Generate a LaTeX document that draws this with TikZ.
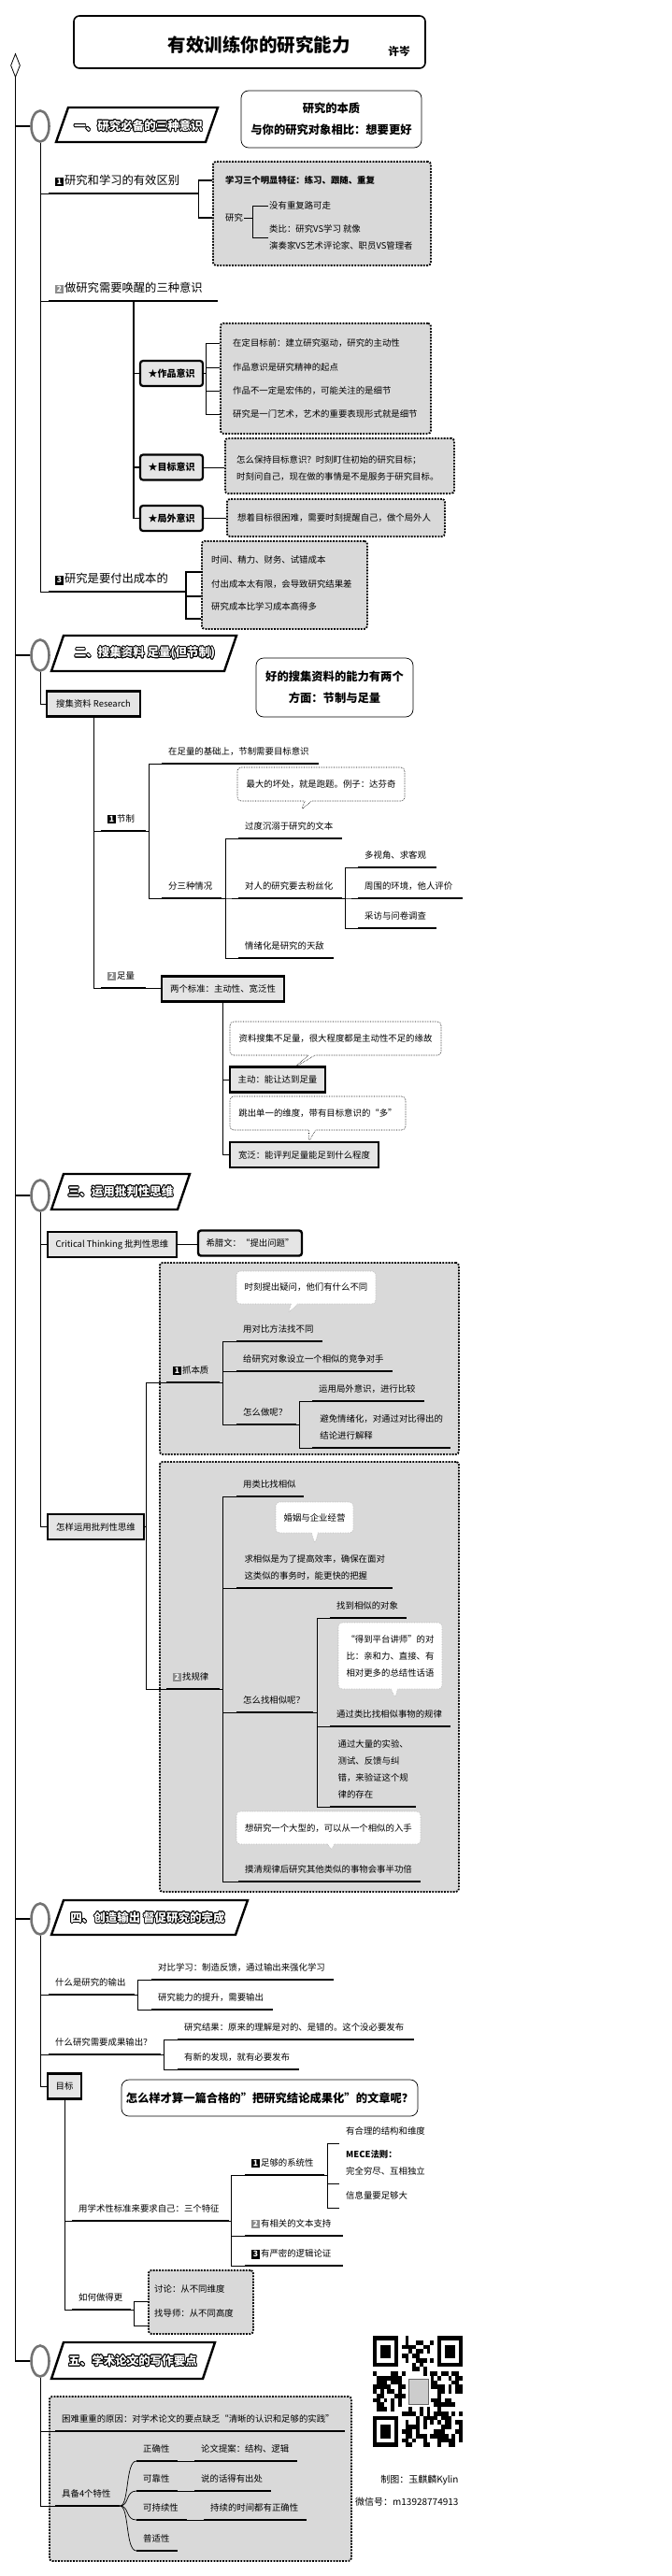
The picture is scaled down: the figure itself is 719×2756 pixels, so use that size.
\documentclass[tikz,border=0pt]{standalone}
\usepackage{fontspec}
\setmainfont{Noto Sans CJK SC}
\usepackage{contour}
\contourlength{0.8pt}
\usetikzlibrary{shapes.geometric,shapes.callouts}
\newcommand{\numtag}[2][black]{{\setlength{\fboxsep}{1.6pt}\colorbox{#1}{\textcolor{white}{\bfseries\fontsize{8.6}{9}\selectfont #2}}}\hspace{1.5pt}}

\begin{document}
\begin{tikzpicture}[x=1pt,y=-1pt,font=\fontsize{9.4}{18}\selectfont,
  spine/.style={line width=1.3pt},
  conn/.style={line width=0.7pt},
  fatconn/.style={line width=1.8pt},
  leaf/.style={anchor=south west,inner xsep=7pt,inner ysep=9pt,text depth=0pt,align=left},
  topic/.style={leaf,append after command={(\tikzlastnode.south west) edge[line width=2.4pt] (\tikzlastnode.south east)}},
  big/.style={font=\fontsize{12.3}{15}\selectfont},
  item/.style={anchor=west,inner sep=1pt,align=left},
  stip/.style={draw,line width=1.8pt,dash pattern=on 1.8pt off 1.4pt,fill=black!15,rounded corners=3pt,inner sep=0pt,anchor=north west},
  secring/.style={ellipse,draw=black!55,line width=2.6pt,fill=white,minimum width=19pt,minimum height=33pt,inner sep=0pt},
  secbar/.style={line width=2.4pt,line join=miter,fill=white},
  sectxt/.style={font=\bfseries\fontsize{12.5}{14}\selectfont,text=white},
  note/.style={draw,line width=0.7pt,rounded corners=8pt,align=center,font=\bfseries\fontsize{12.3}{23}\selectfont},
  kbox/.style={draw,line width=2.2pt,rounded corners=3pt,fill=black!10,minimum width=67pt,minimum height=27pt,inner sep=2pt,font=\bfseries\fontsize{10}{12}\selectfont},
  sqbox/.style={draw,line width=2.4pt,fill=black!10,minimum height=27pt,inner sep=2pt},
  rsqbox/.style={sqbox,rounded corners=3pt},
  tipbox/.style={rectangle callout,draw,densely dotted,line width=0.6pt,rounded corners=4pt,fill=white,callout pointer width=7pt,align=left},
  wtipbox/.style={tipbox,draw=black!30}]

\fill[white] (0,0) rectangle (719,2756);
\useasboundingbox (0,0) rectangle (719,2756);

\node[draw,line width=1.6pt,rounded corners=6pt,minimum width=376pt,minimum height=56pt] (tb) at (267,45) {};
\node[font=\bfseries\fontsize{19.5}{22}\selectfont] (tt) at (277,48) {有效训练你的研究能力};
\node[font=\bfseries\fontsize{11.7}{14}\selectfont] (au) at (427,55) {许岑};

\node[diamond,draw,line width=0.8pt,aspect=0.4,minimum width=10pt,minimum height=25pt,inner sep=0pt] (top) at (16.5,70) {};
\node[secring] (s1) at (43,135) {};
\node[secring] (s2) at (43,701) {};
\node[secring] (s3) at (43,1279) {};
\node[secring] (s4) at (43,2053) {};
\node[secring] (s5) at (43,2526) {};
\draw[spine] (top.south) -- (top.south |- s5.west) -- (s5.west);
\foreach \s in {s1,s2,s3,s4}
  \draw[spine] (top.south |- \s.west) -- (\s.west);

\draw[secbar] (73,115) -- (233,115) -- (220,152) -- (60,152) -- cycle;
\node[sectxt] (h1) at (148,135) {\contour{black}{一、研究必备的三种意识}};
\node[note,minimum width=193pt,minimum height=61pt] (n1) at (354.5,127.5) {研究的本质\\与你的研究对象相比：想要更好};

\node[topic,big,text width=146pt] (b11) at (52,207) {\numtag{1}研究和学习的有效区别};
\node[topic,big,text width=167pt] (b12) at (52,322) {\numtag[black!45]{2}做研究需要唤醒的三种意识};
\node[topic,big,text width=131pt] (b13) at (52,633) {\numtag{3}研究是要付出成本的};
\draw[conn] (s1.south) |- (b11.south west);
\draw[conn] (s1.south) |- (b12.south west);
\draw[conn] (s1.south) |- (b13.south west);

\node[stip,minimum width=233pt,minimum height=111pt] (bx1) at (227,172) {};
\node[item] (i11) at (240,193) {\bfseries 学习三个明显特征：练习、跟随、重复};
\node[item] (i12) at (240,233) {研究};
\node[item] (i121) at (287,220) {没有重复路可走};
\node[item] (i122) at (287,254) {类比：研究VS学习 就像\\演奏家VS艺术评论家、职员VS管理者};
\draw[fatconn] (b11.south east) |- (i11.west -| bx1.west);
\draw[fatconn] (b11.south east) |- (i12.west -| bx1.west);
\coordinate (j12) at (270,233);
\draw[conn] (i12.east) -- (j12) |- (i121.west);
\draw[conn] (j12) |- (i122.west);

\node[stip,minimum width=225pt,minimum height=118pt] (bx2) at (235,345) {};
\coordinate (j2) at (143,322);
\node[kbox] (k1) at (183.5,399.5) {★作品意识};
\node[kbox] (k2) at (183.5,500) {★目标意识};
\node[kbox] (k3) at (183.5,554.5) {★局外意识};
\draw[fatconn] (j2) |- (k1.west);
\draw[fatconn] (j2) |- (k2.west);
\draw[fatconn] (j2) |- (k3.west);
\node[item] (i21) at (248,367) {在定目标前：建立研究驱动，研究的主动性};
\node[item] (i22) at (248,393) {作品意识是研究精神的起点};
\node[item] (i23) at (248,418) {作品不一定是宏伟的，可能关注的是细节};
\node[item] (i24) at (248,443) {研究是一门艺术，艺术的重要表现形式就是细节};
\coordinate (j21) at (220,399.5);
\draw[conn] (k1.east) -- (j21) |- (i21.west -| bx2.west);
\draw[conn] (j21) |- (i22.west -| bx2.west);
\draw[conn] (j21) |- (i23.west -| bx2.west);
\draw[conn] (j21) |- (i24.west -| bx2.west);

\node[stip,minimum width=245pt,minimum height=59pt] (bx3) at (240,468) {};
\node[item] (i3) at (252,501) {怎么保持目标意识？时刻盯住初始的研究目标；\\时刻问自己，现在做的事情是不是服务于研究目标。};
\draw[conn] (k2.east) -- (k2.east -| bx3.west);
\node[stip,minimum width=233pt,minimum height=40pt] (bx4) at (242,533) {};
\node[item] (i4) at (253,554) {想着目标很困难，需要时刻提醒自己，做个局外人};
\draw[conn] (k3.east) -- (k3.east -| bx4.west);

\node[stip,minimum width=177pt,minimum height=94pt] (bx5) at (215,578) {};
\node[leaf,inner xsep=11pt] (i51) at (215,612) {时间、精力、财务、试错成本};
\node[leaf,inner xsep=11pt] (i52) at (215,638) {付出成本太有限，会导致研究结果差};
\node[leaf,inner xsep=11pt] (i53) at (215,662) {研究成本比学习成本高得多};
\coordinate (j5) at (199,633);
\draw[fatconn] (b13.south east) -- (j5) |- (i51.south west);
\draw[fatconn] (j5) |- (i52.south west);
\draw[fatconn] (j5) |- (i53.south west);

\draw[secbar] (68,680) -- (253,680) -- (240,718) -- (55,718) -- cycle;
\node[sectxt] (h2) at (155,699) {\contour{black}{二、搜集资料 足量(但节制)}};
\node[note,minimum width=168pt,minimum height=63pt] (n2) at (358,735.5) {好的搜集资料的能力有两个\\方面：节制与足量};
\node[sqbox,minimum width=100pt] (rs) at (100,753) {搜集资料 Research};
\draw[conn] (s2.south) |- (rs.west);
\node[topic,text width=34pt] (t21) at (108,889) {\numtag{1}节制};
\node[topic,text width=34pt] (t22) at (108,1057) {\numtag[black!45]{2}足量};
\draw[conn] (rs.south) |- (t21.south west);
\draw[conn] (rs.south) |- (t22.south west);
\node[topic,text width=154pt] (t211) at (173,817) {在足量的基础上，节制需要目标意识};
\node[topic,text width=50pt] (t212) at (173,961) {分三种情况};
\draw[conn] (t21.south east) -- ++(3,0) |- (t211.south west);
\draw[conn] (t21.south east) -- ++(3,0) |- (t212.south west);
\node[topic,text width=97pt] (t2121) at (255,897) {过度沉溺于研究的文本};
\node[topic,text width=97pt] (t2122) at (255,961) {对人的研究要去粉丝化};
\node[topic,text width=88pt] (t2123) at (255,1025) {情绪化是研究的天敌};
\draw[conn] (t212.south east) -- ++(4,0) |- (t2121.south west);
\draw[conn] (t212.south east) -- ++(4,0) |- (t2122.south west);
\draw[conn] (t212.south east) -- ++(4,0) |- (t2123.south west);
\node[tipbox,minimum width=179pt,minimum height=36pt,callout absolute pointer={(322,867)}] (c1) at (343.5,839) {最大的坏处，就是跑题。例子：达芬奇};
\node[topic,text width=70pt] (t21221) at (383,928) {多视角、求客观};
\node[topic,text width=98pt] (t21222) at (383,961) {周围的环境，他人评价};
\node[topic,text width=70pt] (t21223) at (383,993) {采访与问卷调查};
\draw[conn] (t2122.south east) -- ++(3,0) |- (t21221.south west);
\draw[conn] (t2122.south east) -- ++(3,0) |- (t21222.south west);
\draw[conn] (t2122.south east) -- ++(3,0) |- (t21223.south west);

\node[sqbox,minimum width=131pt] (sb1) at (238.5,1058) {两个标准：主动性、宽泛性};
\draw[conn] (t22.south east) -- (t22.south east -| sb1.west);
\node[tipbox,minimum width=226pt,minimum height=36pt,callout absolute pointer={(315,1142)}] (c2) at (359,1111) {资料搜集不足量，很大程度都是主动性不足的缘故};
\node[sqbox,minimum width=102pt] (sb2) at (297,1155) {主动：能让达到足量};
\node[tipbox,minimum width=188pt,minimum height=36pt,callout absolute pointer={(330,1222)}] (c3) at (340,1191) {跳出单一的维度，带有目标意识的“多”};
\node[sqbox,minimum width=159pt] (sb3) at (325.5,1235.5) {宽泛：能评判足量能足到什么程度};
\draw[conn] (sb1.south) |- (sb2.west);
\draw[conn] (sb1.south) |- (sb3.west);

\draw[secbar] (68,1256) -- (203,1256) -- (190,1294) -- (55,1294) -- cycle;
\node[sectxt] (h3) at (129,1275) {\contour{black}{三、运用批判性思维}};
\node[sqbox,minimum width=138pt] (ct) at (120,1331.5) {Critical Thinking 批判性思维};
\node[rsqbox,minimum width=111pt] (gk) at (267.5,1330) {希腊文：“提出问题”};
\draw[conn] (s3.south) |- (ct.west);
\draw[conn] (ct.east) -- (ct.east -| gk.west);
\node[sqbox,minimum width=103pt] (hw) at (102.5,1633.5) {怎样运用批判性思维};
\draw[conn] (s3.south) |- (hw.west);

\node[stip,minimum width=320pt,minimum height=205pt] (bxa) at (170,1350) {};
\node[stip,minimum width=320pt,minimum height=460pt] (bxb) at (170,1563) {};
\coordinate (j3) at (156,1633.5);
\node[topic,text width=43pt] (t31) at (178,1479) {\numtag{1}抓本质};
\node[topic,text width=43pt] (t32) at (178,1807) {\numtag[black!45]{2}找规律};
\draw[conn] (hw.east) -- (j3) |- (t31.south west);
\draw[conn] (j3) |- (t32.south west);

\node[wtipbox,minimum width=149pt,minimum height=35pt,callout absolute pointer={(308,1405)}] (ca) at (327.5,1377.5) {时刻提出疑问，他们有什么不同};
\node[topic,text width=78pt] (t311) at (253,1435) {用对比方法找不同};
\node[topic,text width=153pt] (t312) at (253,1467) {给研究对象设立一个相似的竞争对手};
\node[topic,text width=50pt] (t313) at (253,1524) {怎么做呢？};
\draw[conn] (t31.south east) -- ++(3,0) |- (t311.south west);
\draw[conn] (t31.south east) -- ++(3,0) |- (t312.south west);
\draw[conn] (t31.south east) -- ++(3,0) |- (t313.south west);
\node[topic,text width=106pt] (t3131) at (334,1499) {运用局外意识，进行比较};
\node[topic,minimum width=148pt] (t3132) at (334,1549) {避免情绪化，对通过对比得出的\\结论进行解释};
\draw[conn] (t313.south east) -- ++(3,0) |- (t3131.south west);
\draw[conn] (t313.south east) -- ++(3,0) |- (t3132.south west);

\node[topic,text width=58pt] (t321) at (253,1601) {用类比找相似};
\node[wtipbox,minimum width=83pt,minimum height=33pt,callout absolute pointer={(337,1652)}] (cb) at (336.5,1623.5) {婚姻与企业经营};
\node[topic,minimum width=167pt] (t322) at (253,1699) {求相似是为了提高效率，确保在面对\\这类似的事务时，能更快的把握};
\node[topic,text width=68pt] (t323) at (253,1832) {怎么找相似呢？};
\node[wtipbox,minimum width=197pt,minimum height=35pt,callout absolute pointer={(355,1980)}] (cd) at (351.5,1955.5) {想研究一个大型的，可以从一个相似的入手};
\node[topic,text width=181pt] (t324) at (255,2013) {摸清规律后研究其他类似的事物会事半功倍};
\draw[conn] (t32.south east) -- ++(3,0) |- (t321.south west);
\draw[conn] (t32.south east) -- ++(3,0) |- (t322.south west);
\draw[conn] (t32.south east) -- ++(3,0) |- (t323.south west);
\draw[conn] (t32.south east) -- ++(3,0) |- (t324.south west);
\node[topic,text width=68pt] (t3231) at (353,1731) {找到相似的对象};
\node[wtipbox,minimum width=111pt,minimum height=71pt,callout absolute pointer={(423,1817)}] (cc) at (417.5,1771.5) {“得到平台讲师”的对\\比：亲和力、直接、有\\相对更多的总结性话语};
\node[topic,text width=115pt] (t3232) at (353,1847) {通过类比找相似事物的规律};
\node[topic,minimum width=92pt] (t3233) at (353,1933) {通过大量的实验、\\测试、反馈与纠\\错，来验证这个规\\律的存在};
\draw[conn] (t323.south east) -- ++(4,0) |- (t3231.south west);
\draw[conn] (t323.south east) -- ++(4,0) |- (t3232.south west);
\draw[conn] (t323.south east) -- ++(4,0) |- (t3233.south west);

\draw[secbar] (68,2033) -- (265,2033) -- (252,2070) -- (55,2070) -- cycle;
\node[sectxt] (h4) at (158,2052) {\contour{black}{四、创造输出 督促研究的完成}};
\node[topic,text width=78pt] (t41) at (52,2134) {什么是研究的输出};
\node[topic,text width=181pt] (t411) at (162,2118) {对比学习：制造反馈，通过输出来强化学习};
\node[topic,text width=116pt] (t412) at (162,2150) {研究能力的提升，需要输出};
\node[topic,text width=106pt] (t42) at (52,2198) {什么研究需要成果输出？};
\node[topic,text width=239pt] (t421) at (190,2182) {研究结果：原来的理解是对的、是错的。这个没必要发布};
\node[topic,text width=116pt] (t422) at (190,2214) {有新的发现，就有必要发布};
\node[sqbox,minimum width=36pt] (gl) at (69,2232) {目标};
\draw[conn] (s4.south) |- (t41.south west);
\draw[conn] (s4.south) |- (t42.south west);
\draw[conn] (s4.south) |- (gl.west);
\draw[conn] (t41.south east) -- ++(3,0) |- (t411.south west);
\draw[conn] (t41.south east) -- ++(3,0) |- (t412.south west);
\draw[conn] (t42.south east) -- ++(3,0) |- (t421.south west);
\draw[conn] (t42.south east) -- ++(3,0) |- (t422.south west);
\node[note,minimum width=317pt,minimum height=39pt] (n4) at (288.5,2244.5) {怎么样才算一篇合格的"把研究结论成果化"的文章呢？};
\node[topic,text width=154pt] (t43) at (77,2376) {用学术性标准来要求自己：三个特征};
\node[topic,text width=49pt] (t44) at (77,2471) {如何做得更};
\draw[conn] (gl.south) |- (t43.south west);
\draw[conn] (gl.south) |- (t44.south west);
\node[topic,text width=71pt] (t431) at (262,2327) {\numtag{1}足够的系统性};
\node[topic,text width=91pt] (t432) at (262,2392) {\numtag[black!45]{2}有相关的文本支持};
\node[topic,text width=91pt] (t433) at (262,2424) {\numtag{3}有严密的逻辑论证};
\draw[conn] (t43.south east) -- ++(2,0) |- (t431.south west);
\draw[conn] (t43.south east) -- ++(2,0) |- (t432.south west);
\draw[conn] (t43.south east) -- ++(2,0) |- (t433.south west);
\node[leaf] (l1) at (363,2293) {有合理的结构和维度};
\node[leaf] (l2) at (363,2336) {\textbf{MECE法则：}\\完全穷尽、互相独立};
\node[leaf] (l3) at (363,2362) {信息量要足够大};
\draw[conn] (t431.south east) -- ++(3,0) |- (l1.south west);
\draw[conn] (t431.south east) -- ++(3,0) |- (l2.south west);
\draw[conn] (t431.south east) -- ++(3,0) |- (l3.south west);
\node[stip,minimum width=112pt,minimum height=68pt] (bx6) at (158,2428) {};
\node[leaf] (l4) at (158,2462) {讨论：从不同维度};
\node[leaf] (l5) at (158,2488) {找导师：从不同高度};
\draw[conn] (t44.south east) -- ++(3,0) |- (l4.south west);
\draw[conn] (t44.south east) -- ++(3,0) |- (l5.south west);

\draw[secbar] (68,2506) -- (230,2506) -- (217,2545) -- (55,2545) -- cycle;
\node[sectxt] (h5) at (142,2526) {\contour{black}{五、学术论文的写作要点}};
\node[stip,minimum width=323pt,minimum height=176pt] (bx7) at (52,2563) {};
\node[topic,text width=296pt] (t51) at (59,2601) {困难重重的原因：对学术论文的要点缺乏“清晰的认识和足够的实践”};
\node[topic,text width=55pt] (t52) at (59,2681) {具备4个特性};
\draw[conn] (s5.south) |- (t51.south west);
\draw[conn] (s5.south) |- (t52.south west);
\node[topic,text width=30pt] (t521) at (146,2633) {正确性};
\node[topic,text width=30pt] (t522) at (146,2665) {可靠性};
\node[topic,text width=40pt] (t523) at (146,2696) {可持续性};
\node[topic,text width=30pt] (t524) at (146,2729) {普适性};
\foreach \k in {t521,t522,t523,t524}
  \draw[conn] (t52.south east) .. controls +(10,0) and +(-12,0) .. (\k.south west);
\node[topic,text width=96pt] (t5211) at (208,2633) {论文提案：结构、逻辑};
\node[topic,text width=68pt] (t5221) at (208,2665) {说的话得有出处};
\node[topic,text width=96pt] (t5231) at (218,2696) {持续的时间都有正确性};
\draw[conn] (t521.south east) -- (t5211.south west);
\draw[conn] (t522.south east) -- (t5221.south west);
\draw[conn] (t523.south east) -- (t5231.south west);

\pgfmathsetseed{11}
\foreach \i in {0,...,24}{
  \foreach \j in {0,...,24}{
    \pgfmathtruncatemacro{\qbit}{and(rnd<0.5,not(or(or(and(\i<8,\j<8),and(\i>16,\j<8)),and(\i<8,\j>16))))}
    \ifnum\qbit=1 \fill (399+\i*3.84,2499+\j*4.76) rectangle ++(3.84,4.76);\fi
  }
}
\foreach \fx/\fy in {0/0,18/0,0/18}{
  \fill (399+\fx*3.84,2499+\fy*4.76) rectangle ++(26.88,33.32);
  \fill[white] (399+\fx*3.84+3.84,2499+\fy*4.76+4.76) rectangle ++(19.2,23.8);
  \fill (399+\fx*3.84+7.68,2499+\fy*4.76+9.52) rectangle ++(11.52,14.28);
}
\fill[white] (434,2542) rectangle (461,2575);
\draw[black!60,fill=black!20] (437,2545) rectangle (458,2572);

\node[anchor=east,font=\fontsize{10}{12}\selectfont] (cr1) at (494,2653) {制图：玉麒麟Kylin};
\node[anchor=east,font=\fontsize{10}{12}\selectfont] (cr2) at (494,2677) {微信号：m13928774913};
\end{tikzpicture}
\end{document}
